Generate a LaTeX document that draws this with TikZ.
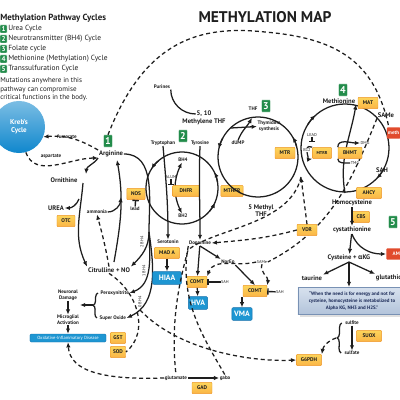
\documentclass[tikz,border=0pt]{standalone}
\usepackage{fontspec}
\setmainfont{PT Sans}
\newfontfamily\grkfont{Open Sans}
\usetikzlibrary{arrows.meta,decorations.pathreplacing,shadows}

\definecolor{ink}{RGB}{30,30,30}
\definecolor{enzfill}{RGB}{250,180,70}
\definecolor{enzline}{RGB}{238,150,40}
\definecolor{cycgreen}{RGB}{35,140,75}
\definecolor{prodblue}{RGB}{30,150,210}
\definecolor{prodline}{RGB}{20,110,170}
\definecolor{krebblue}{RGB}{15,135,205}
\definecolor{alertred}{RGB}{225,75,45}
\definecolor{quotetop}{RGB}{215,225,238}
\definecolor{quotebot}{RGB}{178,195,218}
\definecolor{quoteline}{RGB}{120,145,180}
\definecolor{quoteink}{RGB}{30,45,90}

\tikzset{
  ttl/.style={font=\fontsize{11}{12}\selectfont\bfseries, text=ink},
  head/.style={font=\fontsize{6.3}{7}\selectfont\bfseries, text=ink, inner sep=0pt},
  leg/.style={font=\fontsize{5.3}{6}\selectfont, text=ink, inner sep=0pt},
  note/.style={font=\fontsize{5}{6.2}\selectfont, text=ink, inner sep=0pt},
  lbl/.style={font=\fontsize{4.7}{5.2}\selectfont\bfseries, text=ink, inner sep=0.5pt},
  sml/.style={font=\fontsize{3.6}{4}\selectfont\bfseries, text=ink, inner sep=0.3pt},
  tny/.style={font=\fontsize{3}{3.5}\selectfont, text=ink, inner sep=0.3pt},
  enz/.style={draw=enzline, top color=enzfill!70!yellow!80!white, bottom color=enzfill,
    rounded corners=0.6pt, line width=0.3pt,
    font=\fontsize{3.8}{4}\selectfont\bfseries, text=ink,
    minimum width=5mm, minimum height=2.8mm, inner xsep=0.7mm, inner ysep=0pt},
  keybox/.style={fill=cycgreen, draw=white, line width=0.3pt, text=white, rounded corners=0.4pt,
    font=\fontsize{7}{7}\selectfont\bfseries, minimum width=2.3mm, minimum height=3mm, inner sep=0pt},
  prod/.style={fill=prodblue, draw=prodline, line width=0.3pt, rounded corners=0.8pt, text=white,
    font=\fontsize{5.5}{6}\selectfont\bfseries, minimum height=3.2mm, inner xsep=0.6mm, inner ysep=0pt},
  redbox/.style={fill=alertred, text=white, rounded corners=0.6pt,
    font=\fontsize{3.6}{4}\selectfont\bfseries, minimum height=2.8mm, inner xsep=0.3mm, inner ysep=0pt},
  cyc/.style={line width=0.9pt, draw=ink},
  arrowed/.style={-{Latex[length=1.3mm,width=1.1mm]}},
  flow/.style={cyc, arrowed},
  dsh/.style={line width=0.9pt, draw=ink, dash pattern=on 1mm off 0.75mm},
  inh/.style={line width=1pt, draw=ink, -{Bar[width=1.6mm,line width=1pt]}},
}

\begin{document}
\begin{tikzpicture}[x=0.025cm, y=-0.025cm]
\useasboundingbox (0,0) rectangle (400,400);

% legend and title
\node[head, anchor=west] (legend) at (0,18) {Methylation Pathway Cycles};
\foreach \n/\txt in {1/Urea Cycle, 2/Neurotransmitter (BH4) Cycle, 3/Folate cycle,
                     4/Methionine (Methylation) Cycle, 5/Transsulfuration Cycle}{
  \node[keybox, minimum width=1.8mm, minimum height=2mm, font=\fontsize{5}{5}\selectfont\bfseries]
    (key\n) at (3.5,19+10*\n) {\n};
  \node[leg, anchor=west] (item\n) at (8,19+10*\n) {\txt};
}
\node[note, anchor=west, align=left] (mut) at (0,89.5)
  {Mutations anywhere in this\\pathway can compromise\\critical functions in the body.};
\node[ttl] (title) at (265,17) {METHYLATION MAP};

% Kreb's cycle
\node[circle, top color=krebblue!55!white, bottom color=krebblue, minimum size=13mm, inner sep=0pt,
      text=white, align=center, font=\fontsize{5}{6}\selectfont\bfseries] (kreb) at (19,127) {Kreb’s\\Cycle};

% 1 urea cycle
\node[keybox] (c1) at (108,141) {1};
\node[lbl] (arg) at (111,154) {Arginine};
\node[sml] (fum) at (67,137) {fumarate};
\node[sml] (asp) at (51,156) {aspartate};
\node[lbl] (orn) at (64,180) {Ornithine};
\node[lbl] (urea) at (56,208) {UREA};
\node[enz, minimum width=4.5mm] (otc) at (66,221) {OTC};
\node[sml] (amm) at (97,212) {ammonia};
\node[enz, minimum width=4.6mm] (nos) at (136,194) {NOS};
\node[sml] (lead) at (135,209) {lead};
\node[lbl] (cit) at (109,270) {Citrulline + NO};
\coordinate (ornin) at (86,174);
\coordinate (ornout) at (83,183);
\coordinate (ureabr) at (79,199);
\coordinate (citr) at (114,262);
\coordinate (argin) at (117,160);
\coordinate (ammjoin) at (121,197);
\coordinate (nosfork) at (149,232);

\draw[dsh, arrowed] (arg.north west) to[out=150,in=5] (kreb.-22);
\draw[dsh, arrowed] (kreb.-75) to[out=-70,in=180] (arg.south west);
\draw[flow] (arg.south west) to[out=235,in=85] (ornin);
\draw[flow] (ornout) to[out=265,in=115] (cit.north west);
\draw[flow] (ureabr) to[out=250,in=0] (urea.east);
\draw[flow] (citr) to[out=80,in=-80] (argin);
\draw[flow] (amm.east) to[out=0,in=-95] (ammjoin);
\draw[dsh, arrowed] (cit.north) to[out=100,in=-75] (amm.south);
\draw[cyc] (arg.east) to[out=0,in=90] (nosfork);
\draw[inh] (lead) -- (nos);

% big dashed arc
\draw[dsh] (c1.north) .. controls (145,40) and (200,25) .. (265,32)
  .. controls (335,38) and (375,60) .. (389,128);

% 2 BH4 cycle
\node[keybox] (c2) at (183,136) {2};
\node[sml] (trp) at (163,143) {Tryptophan};
\node[sml] (tyr) at (200,143) {Tyrosine};
\draw[cyc] (182,188) circle[radius=36];
\draw[cyc, arrowed] (182,188) ++(230:36) arc[start angle=230, end angle=212, radius=36];
\draw[cyc, arrowed] (182,188) ++(350:36) arc[start angle=350, end angle=334, radius=36];
\draw[cyc, arrowed] (182,188) ++(40:36) arc[start angle=40, end angle=24, radius=36];
\node[sml] (bh4) at (183,160) {BH4};
\node[sml] (bh2) at (183,216) {BH2};
\node[tny] (alum) at (171,177) {ALUM};
\draw[flow, {Latex[length=1.3mm,width=1.1mm]}-{Latex[length=1.3mm,width=1.1mm]}]
  (bh4) to[bend right=25] (bh2);
\node[enz, minimum width=6.7mm] (dhfr) at (186,191) {DHFR};
\node[enz, minimum width=5.5mm] (mthfr) at (232,191) {MTHFR};
\draw[inh] (alum) -- (alum |- dhfr.north);

% NOS branches
\node[sml, anchor=west] (perox) at (100,293) {Peroxynitrite};
\node[sml, anchor=west] (supox) at (99,318) {Super Oxide};
\draw[flow] (nosfork) to[out=-90,in=45] (cit.north east);
\draw[flow] (nosfork) to[out=-88,in=20] (perox.east);
\draw[flow] (nosfork) to[out=-82,in=25] (supox.east);
\node[tny, rotate=90] (bh4two) at (142,242) {2 BH4};
\node[tny, rotate=90] (bh4one) at (144,271) {1 BH4};
\node[tny, rotate=90] (bh4none) at (140,302) {0 BH4};

% serotonin and dopamine
\node[sml] (ser) at (168,242) {Serotonin};
\node[sml] (dop) at (200,243) {Dopamine};
\draw[flow] (trp.south) to[out=-85,in=90] (ser.north);
\draw[flow] (tyr.south) to[out=-92,in=90] (dop.north);
\node[enz, minimum width=6.3mm] (mao) at (167,253) {MAO A};
\node[prod, minimum width=7.2mm] (hiaa) at (167,278) {HIAA};
\draw[flow] (mao) -- (hiaa);
\node[enz] (comta) at (197,282) {COMT};
\node[prod, minimum width=4.8mm] (hva) at (198,303) {HVA};
\node[sml] (norep) at (228,262) {NorEp};
\node[enz, minimum width=6mm] (comtb) at (255,291) {COMT};
\node[prod, minimum width=4.6mm] (vma) at (242,314) {VMA};
\node[tny] (sah1) at (225,282) {SAH};
\node[tny] (sah2) at (280,292) {SAH};
\node[tny] (same2) at (262,262) {SAMe};
\draw[flow] (dop) -- (comta);
\draw[flow] (comta) -- (hva);
\draw[flow] (dop.south) -- (norep.north west);
\draw[flow] (norep.south east) -- (comtb.north);
\draw[flow] (comtb.south -| vma.north) -- (vma.north);
\draw[inh] (sah1) -- (comta);
\draw[inh] (sah2) -- (comtb);
\draw[dsh, arrowed] (same2.south) to[out=250,in=80] (comtb.north east);
\draw[dsh, arrowed] (same2.west) to[out=195,in=70] (comta.north east);

% 3 folate cycle
\node[sml] (thf) at (253,109) {THF};
\node[keybox] (c3) at (266,106) {3};
\node[sml, align=center] (thy) at (269,126.5) {Thymidine\\synthesis};
\node[sml] (dump) at (238,143) {dUMP};
\node[lbl] (fivten) at (204,114) {5, 10};
\node[lbl] (mthyl) at (204,122) {Methylene THF};
\node[sml] (pur) at (162,87) {Purines};
\draw[cyc] (pur.south east) to[out=-90,in=180] (fivten.west);
\draw[cyc] (258,157) circle[radius=40];
\draw[cyc, arrowed] (258,157) ++(208:40) arc[start angle=208, end angle=192, radius=40];
\draw[cyc, arrowed] (258,157) ++(345:40) arc[start angle=345, end angle=330, radius=40];
\coordinate (folleft) at (231,128);
\coordinate (foltop) at (252,118);
\draw[flow] (folleft) -- (thy.west);
\draw[flow] (dump.north) to[out=70,in=240] (foltop);
\node[enz] (mtr) at (285,153) {MTR};
\node[lbl, align=center] (mthf) at (261,211) {5 Methyl\\THF};

% 4 methionine cycle
\node[keybox] (c4) at (343,90) {4};
\node[lbl] (met) at (339,101) {Methionine};
\draw[cyc] (345,148) circle[radius=44];
\draw[cyc, arrowed] (345,148) ++(212:44) arc[start angle=212, end angle=228, radius=44];
\draw[cyc, arrowed] (345,148) ++(28:44) arc[start angle=28, end angle=44, radius=44];
\node[enz] (mat) at (368,103) {MAT};
\node[lbl] (same1) at (386,115) {SAMe};
\node[redbox, anchor=west] (meth) at (386.5,133) {meth};
\node[lbl] (sah0) at (382,170) {SAH};
\node[enz, minimum width=6.3mm] (ahcy) at (369,193) {AHCY};
\node[lbl] (hcy) at (352,203) {Homocysteine};
\coordinate (hcytop) at (345,193);
\draw[flow] (hcytop) to[out=100,in=-100] (met.south east);
\draw[dsh] (same1.south west) .. controls (350,185) and (330,230) .. (same2.east);
\node[tny] (lead2) at (312,135) {LEAD};
\node[tny] (b12) at (307,150) {B12};
\node[enz, minimum width=4.8mm, font=\fontsize{3}{3}\selectfont\bfseries] (mtrr) at (322,153) {MTRR};
\coordinate (leadbar) at (312,142);
\draw[inh] (lead2) -- (leadbar);
\draw[cyc] (b12.north) to[out=80,in=170] (mtrr.north west);
\draw[flow] (b12.south) to[out=-80,in=190] (mtrr.south west);
\node[tny] (dmg) at (365,143) {DMG};
\node[tny] (tmg) at (355,163) {TMG};
\node[enz, minimum width=6mm] (bhmt) at (350,153) {BHMT};
\draw[flow] (bhmt.north west) to[out=90,in=180] (dmg.west);
\draw[cyc] (tmg.west) to[out=180,in=-90] (bhmt.south west);

% 5 transsulfuration
\node[keybox] (c5) at (393,222) {5};
\node[enz, minimum width=4.3mm] (cbs) at (361,217) {CBS};
\node[lbl] (cysta) at (352,230) {cystathionine};
\node[lbl] (cys) at (349,258) {Cysteine + {\grkfont α}KG};
\node[redbox, anchor=west, minimum width=5mm] (am) at (386,254) {AM};
\draw[flow] (hcy) -- (cysta);
\draw[flow] (cysta) -- (cys);
\draw[flow] (cysta.south) to[out=-70,in=180] (am.west);
\node[lbl] (tau) at (312,278) {taurine};
\node[lbl, anchor=west] (gsh) at (375,278) {glutathione};
\node[draw=quoteline, line width=0.4pt, top color=quotetop, bottom color=quotebot,
      drop shadow={opacity=0.25, shadow xshift=0.5mm, shadow yshift=-0.5mm},
      minimum width=27mm, minimum height=6.8mm, align=center, text=quoteink,
      font=\fontsize{3.5}{4.7}\selectfont\bfseries] (quote) at (352,301)
  {“When the need is for energy and not for\\cysteine, homocysteine is metabolized to\\Alpha KG, NH3 and H2S.”};
\draw[flow] (cys.south) -- (tau.north east);
\draw[flow] (cys.south) -- (quote.north -| cys.south);
\draw[flow] (cys.south) -- (gsh.north west);
\node[sml] (sulfite) at (352,323) {sulfite};
\node[sml] (sulfate) at (352,353) {sulfate};
\draw[flow] (sulfite) -- (sulfate);
\node[enz, minimum width=6.3mm] (suox) at (369,336) {SUOX};
\draw[cyc, decorate, decoration={brace, amplitude=3pt}]
  ([xshift=-2pt]sulfate.west) -- ([xshift=-2pt]sulfite.west);
\coordinate (sbrace) at (336,338);
\node[enz, minimum width=6.3mm] (g6pdh) at (309,360) {G6PDH};
\draw[dsh, arrowed] (sbrace) to[out=200,in=80] (g6pdh.north east);

% VDR and dashed feeds
\node[enz] (vdr) at (307,230) {VDR};
\coordinate (mtrjoin) at (301,177);
\draw[dsh, arrowed] (vdr.north) -- (mtrjoin);
\draw[dsh, arrowed] (vdr.west) to[out=195,in=5] (dop.east);

% lower left
\node[sml, align=center] (neur) at (68,295) {Neuronal\\Damage};
\node[sml, align=center] (micro) at (68,320) {Microglial\\Activation};
\node[prod, minimum width=19mm, minimum height=2mm, font=\fontsize{3.2}{3.5}\selectfont] (dis) at (68,338) {Oxidative-Inflammatory Disease};
\draw[flow] (neur) -- (micro);
\draw[flow] (micro) -- (dis);
\draw[cyc, decorate, decoration={brace, amplitude=3pt}]
  ([xshift=-1.5pt]supox.west) -- ([xshift=-1.5pt]perox.west);
\coordinate (pbrace) at (93,305);
\coordinate (nmid) at (80,305);
\draw[flow] (pbrace) -- (nmid);
\node[enz, minimum width=3.8mm] (gst) at (118,338) {GST};
\node[enz, minimum width=3.8mm] (sod) at (118,352) {SOD};
\draw[dsh] (cit.south) .. controls (138,292) and (150,332) .. (sod.east);

% glutamate and gaba
\node[sml] (glu) at (176,378) {glutamate};
\node[sml] (gaba) at (225,378) {gaba};
\node[enz] (gad) at (202,388) {GAD};
\coordinate (o2pt) at (140,310);
\draw[flow] (glu) -- (gaba);
\draw[dsh, arrowed] (glu.west) .. controls (105,380) and (70,372) .. (dis.south);
\draw[dsh] (mtrjoin) .. controls (290,225) and (215,228) .. (188,250)
  .. controls (180,280) and (170,320) .. (glu.north);
\draw[dsh] (dop.south west) .. controls (178,300) and (205,340) .. (gaba.north);
\draw[dsh, arrowed] (o2pt) .. controls (180,352) and (255,362) .. (g6pdh.west);

\end{tikzpicture}
\end{document}
